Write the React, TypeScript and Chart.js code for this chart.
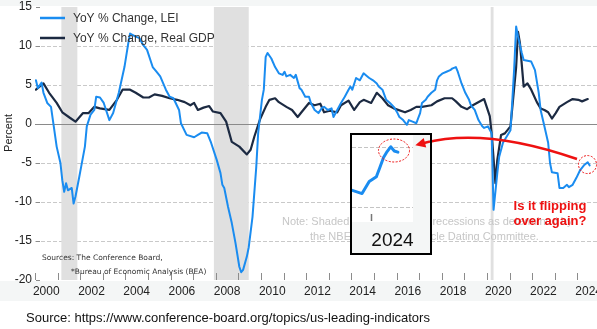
import React, { useEffect, useRef } from 'react';
import { Chart, registerables } from 'chart.js';

Chart.register(...registerables);

// ---------- data ----------
const seriesNames = ['YoY % Change, LEI', 'YoY % Change, Real GDP'];

const leiMonths = [
  '2000-01','2000-02','2000-04','2000-05','2000-07','2000-09','2000-10','2000-12',
  '2001-02','2001-03','2001-04','2001-05','2001-06','2001-08','2001-09','2001-10','2001-12',
  '2002-01','2002-03','2002-04','2002-06','2002-08','2002-09','2002-11',
  '2003-01','2003-04','2003-06','2003-09','2003-12',
  '2004-02','2004-03','2004-06','2004-08','2004-10','2004-12',
  '2005-03','2005-05','2005-07','2005-10','2005-12',
  '2006-02','2006-05','2006-06','2006-09',
  '2007-01','2007-03','2007-05','2007-08','2007-10',
  '2008-01','2008-03','2008-04','2008-05','2008-07','2008-09','2008-11',
  '2009-01','2009-02','2009-03','2009-05','2009-06','2009-08','2009-10','2009-11',
  '2010-01','2010-02','2010-03','2010-04','2010-06','2010-08','2010-10','2010-12',
  '2011-01','2011-02','2011-04','2011-06','2011-07','2011-09','2011-10','2011-12',
  '2012-02','2012-03','2012-05','2012-07','2012-09','2012-10','2012-12',
  '2013-02','2013-03','2013-05','2013-07','2013-09','2013-11','2013-12',
  '2014-01','2014-03','2014-05','2014-07','2014-09','2014-10','2014-12',
  '2015-02','2015-03','2015-05','2015-07','2015-09','2015-11',
  '2016-01','2016-02','2016-04','2016-06','2016-07','2016-09','2016-11',
  '2017-01','2017-02','2017-04','2017-05','2017-07','2017-09','2017-10','2017-11',
  '2018-01','2018-03','2018-05','2018-06','2018-08','2018-09','2018-11',
  '2019-01','2019-03','2019-04','2019-06','2019-08','2019-10','2019-11',
  '2020-01','2020-03','2020-04','2020-06','2020-07','2020-09','2020-11',
  '2021-01','2021-02','2021-03','2021-04','2021-05','2021-07','2021-08','2021-10','2021-12',
  '2022-02','2022-04','2022-05','2022-07','2022-09','2022-10','2022-11',
  '2023-02','2023-03','2023-05','2023-07','2023-08','2023-10','2023-12',
  '2024-02','2024-04','2024-06','2024-07',
];
const leiValues = [
  5.6, 4.6, 5.3, 4.0, 2.7, 2.2, 0.5, -2.9,
  -5.0, -7.2, -8.7, -7.6, -8.5, -8.2, -10.2, -9.3, -6.8,
  -5.5, -2.9, -0.3, 1.2, 1.8, 3.5, 3.4,
  2.7, 0.5, 1.4, 4.0, 7.3,
  10.3, 11.6, 11.2, 11.0, 10.1, 9.5,
  7.3, 6.7, 6.1, 4.4, 3.5,
  3.3, 1.8, 0.1, -1.4,
  -1.7, -1.4, -1.1, -1.2, -2.4,
  -4.6, -6.3, -7.8, -8.2, -10.6, -12.7, -15.3,
  -18.3, -19.0, -18.7, -17.0, -15.8, -11.9, -5.5, -1.2,
  3.1, 4.4, 8.6, 9.1, 8.4, 7.3, 6.5, 6.3,
  6.7, 6.1, 6.3, 5.9, 6.3, 4.6, 4.4, 3.5,
  3.5, 2.7, 1.8, 1.4, 2.1, 2.2, 1.8,
  2.0, 0.9, 1.8, 2.7, 3.5, 4.4, 4.8,
  4.4, 5.9, 5.6, 6.5, 6.1, 5.9, 5.6,
  5.2, 4.8, 4.4, 3.1, 2.7, 2.2,
  1.4, 0.9, 0.5, -0.1, 0.5, 0.3, 0.1,
  1.4, 2.7, 3.1, 3.5, 4.0, 4.4, 5.6, 6.1,
  6.5, 6.7, 6.9, 7.1, 7.3, 6.7, 5.2,
  4.0, 3.1, 2.4, 1.8, 0.5, -0.3, -0.5,
  -0.3, -1.2, -11.0, -6.3, -4.2, -2.4, -1.6,
  -0.8, 3.1, 7.3, 12.5, 11.2, 9.1, 8.2, 8.1, 8.0,
  6.9, 4.0, 1.8, -0.3, -2.4, -5.0, -6.2,
  -6.3, -8.2, -8.2, -7.8, -8.1, -7.8, -6.9,
  -5.9, -5.3, -4.9, -5.3,
];

const gdpMonths = [
  '2000-01','2000-05','2000-08','2000-12','2001-03','2001-07','2001-10',
  '2002-02','2002-05','2002-08','2002-11','2003-04','2003-08','2003-11',
  '2004-03','2004-06','2004-10','2005-01','2005-04','2005-08','2005-12',
  '2006-04','2006-08','2006-11','2007-01','2007-03','2007-06','2007-09','2007-11',
  '2008-03','2008-06','2008-09','2009-01','2009-05','2009-07','2009-09','2009-12',
  '2010-03','2010-05','2010-08','2010-10','2011-02','2011-05','2011-08','2011-10',
  '2012-02','2012-05','2012-08','2012-10','2013-01','2013-05','2013-07','2013-11',
  '2014-02','2014-05','2014-07','2014-11','2015-02','2015-05','2015-08','2015-11',
  '2016-05','2016-08','2016-11','2017-02','2017-07','2017-10',
  '2018-02','2018-06','2018-08','2018-11','2019-02','2019-05','2019-11',
  '2020-02','2020-03','2020-05','2020-06','2020-08','2020-10',
  '2021-01','2021-02','2021-04','2021-05','2021-06','2021-08','2021-10','2021-12',
  '2022-03','2022-05','2022-07','2022-09','2022-11',
  '2023-01','2023-03','2023-07','2023-10','2024-01','2024-03','2024-06',
];
const gdpValues = [
  4.4, 5.2, 4.0, 2.7, 1.5, 0.8, 0.3,
  1.4, 1.4, 2.2, 2.0, 1.8, 3.1, 4.4,
  4.4, 4.0, 3.4, 3.4, 3.8, 3.6, 3.3,
  3.1, 2.8, 2.4, 2.7, 1.8, 2.1, 2.3, 1.6,
  1.4, 0.3, -2.3, -2.9, -3.9, -3.3, -1.6, 0.6,
  2.2, 3.1, 3.3, 2.8, 2.2, 1.8, 0.9, 1.5,
  2.7, 2.4, 2.6, 1.5, 1.7, 1.5, 2.4, 3.0,
  1.8, 2.8, 3.1, 2.7, 4.0, 3.3, 2.4, 2.0,
  1.5, 1.8, 2.2, 2.2, 2.4, 2.9,
  3.3, 3.3, 2.9, 2.2, 1.9, 2.4, 3.2,
  1.0, -1.2, -7.6, -4.6, -1.4, -1.2,
  -0.3, 2.2, 7.3, 11.8, 10.4, 4.8, 5.2, 4.4,
  2.8, 2.0, 1.8, 1.5, 0.7,
  1.4, 2.2, 2.8, 3.2, 3.1, 2.9, 3.2,
];

// recessions (NBER), first and last month of shading
const recessionStarts = ['2001-03', '2007-12', '2020-03'];
const recessionEnds = ['2001-11', '2009-06', '2020-04'];

const yTickValues = [15, 10, 5, 0, -5, -10, -15, -20];
const xLabelYears = [2000, 2002, 2004, 2006, 2008, 2010, 2012, 2014, 2016, 2018, 2020, 2022, 2024];

// zoomed inset of the latest LEI readings
const insetMonths = ['2023-07', '2023-10', '2023-12', '2024-02', '2024-03', '2024-04', '2024-05', '2024-06', '2024-07', '2024-08'];
const insetValues = [-8.5, -8.8, -7.8, -7.4, -6.6, -5.8, -5.3, -4.9, -5.25, -5.35];
const insetLabelYear = 2024;

// annotation anchor (latest LEI reading)
const flagPoint = { month: 2024.45, value: -5.2 };

// ---------- styles ----------
const LEI_COLOR = '#1a8cf0';
const GDP_COLOR = '#1c2a42';
const RED = '#ee1111';
const NARROW = "'Liberation Sans Narrow', 'Arial Narrow', 'Liberation Sans', Arial, sans-serif";
const SANS = "'Liberation Sans', Arial, sans-serif";
const STRIP = '#f4f6f6';

function monthToYear(m: string): number {
  const [y, mo] = m.split('-').map(Number);
  return y + (mo - 0.5) / 12;
}

// arrow geometry in page pixels
const ARROW = { p0: [577, 159], p1: [485, 127], p2: [424, 143] };

function drawArrow(ctx: CanvasRenderingContext2D, ox: number, oy: number) {
  const [x0, y0] = ARROW.p0, [x1, y1] = ARROW.p1, [x2, y2] = ARROW.p2;
  ctx.save();
  ctx.translate(-ox, -oy);
  ctx.strokeStyle = RED;
  ctx.fillStyle = RED;
  ctx.lineWidth = 2.5;
  ctx.beginPath();
  ctx.moveTo(x0, y0);
  ctx.quadraticCurveTo(x1, y1, x2, y2);
  ctx.stroke();
  const dx = x2 - x1, dy = y2 - y1;
  const len = Math.hypot(dx, dy);
  const ux = dx / len, uy = dy / len;
  const tipX = x2 + ux * 9, tipY = y2 + uy * 9;
  const bx = x2 - ux * 1, by = y2 - uy * 1;
  ctx.beginPath();
  ctx.moveTo(tipX, tipY);
  ctx.lineTo(bx - uy * 5, by + ux * 5);
  ctx.lineTo(bx + uy * 5, by - ux * 5);
  ctx.closePath();
  ctx.fill();
  ctx.restore();
}

const mainPlugin = {
  id: 'mainDecor',
  beforeDraw(chart: any) {
    const { ctx, width } = chart;
    ctx.save();
    ctx.fillStyle = '#ffffff';
    ctx.fillRect(0, 0, width, chart.height);
    ctx.fillStyle = STRIP;
    ctx.fillRect(0, 0, width, 6);
    ctx.fillRect(0, 281, width, 20);
    ctx.restore();
  },
  beforeDatasetsDraw(chart: any) {
    const { ctx, chartArea } = chart;
    const xs = chart.scales.x, ys = chart.scales.y;
    ctx.save();
    // recession shading
    ctx.fillStyle = '#e0e0e0';
    recessionStarts.forEach((s, i) => {
      const a = xs.getPixelForValue(monthToYear(s) - 1 / 24);
      const b = xs.getPixelForValue(monthToYear(recessionEnds[i]));
      ctx.fillRect(a, chartArea.top, b - a, chartArea.bottom - chartArea.top);
    });
    // zero line
    const y0 = Math.round(ys.getPixelForValue(0)) + 0.5;
    ctx.strokeStyle = '#8a8a8a';
    ctx.lineWidth = 1;
    ctx.beginPath();
    ctx.moveTo(chartArea.left, y0);
    ctx.lineTo(chartArea.right, y0);
    ctx.stroke();
    // inward tick marks
    ctx.strokeStyle = '#8c8c8c';
    for (let yr = 2000; yr <= 2024; yr++) {
      const x = Math.round(xs.getPixelForValue(yr)) + 0.5;
      ctx.beginPath();
      ctx.moveTo(x, chartArea.bottom - 7);
      ctx.lineTo(x, chartArea.bottom);
      ctx.stroke();
    }
    yTickValues.forEach((v) => {
      const y = Math.round(ys.getPixelForValue(v)) + 0.5;
      ctx.beginPath();
      ctx.moveTo(chartArea.left + 1, y);
      ctx.lineTo(chartArea.left + 5, y);
      ctx.stroke();
    });
    ctx.restore();
  },
  afterDraw(chart: any) {
    const { ctx } = chart;
    const xs = chart.scales.x, ys = chart.scales.y;
    ctx.save();
    // legend
    const colors = [LEI_COLOR, GDP_COLOR];
    seriesNames.forEach((name, i) => {
      const y = 18 + i * 20;
      ctx.strokeStyle = colors[i];
      ctx.lineWidth = 2.5;
      ctx.beginPath();
      ctx.moveTo(40, y);
      ctx.lineTo(65, y);
      ctx.stroke();
      ctx.fillStyle = '#333333';
      ctx.font = `12px ${NARROW}`;
      ctx.textBaseline = 'middle';
      ctx.textAlign = 'left';
      ctx.fillText(name, 73, y + 1);
    });
    // y title
    ctx.save();
    ctx.translate(9, 133);
    ctx.rotate(-Math.PI / 2);
    ctx.font = `11px ${SANS}`;
    ctx.fillStyle = '#222';
    ctx.textAlign = 'center';
    ctx.textBaseline = 'middle';
    ctx.fillText('Percent', 0, 0);
    ctx.restore();
    // sources
    ctx.font = `7.5px 'DejaVu Sans', sans-serif`;
    ctx.fillStyle = '#333';
    ctx.textAlign = 'left';
    ctx.textBaseline = 'middle';
    ctx.fillText('Sources: The Conference Board,', 42, 258);
    ctx.fillText('*Bureau of Economic Analysis (BEA)', 71, 272);
    // note
    ctx.font = `11px ${SANS}`;
    ctx.fillStyle = '#c6c6c6';
    ctx.fillText('Note: Shaded areas represent recessions as determined by', 282, 222);
    ctx.fillText("the NBER's Business Cycle Dating Committee.", 310, 237);
    // red question
    ctx.font = `bold 13px ${SANS}`;
    ctx.fillStyle = RED;
    ctx.textAlign = 'center';
    ctx.fillText('Is it flipping', 550, 206);
    ctx.fillText('over again?', 550, 221);
    // circle at latest reading
    const cx = xs.getPixelForValue(flagPoint.month);
    const cy = ys.getPixelForValue(flagPoint.value);
    ctx.strokeStyle = RED;
    ctx.lineWidth = 1;
    ctx.setLineDash([2, 1.5]);
    ctx.beginPath();
    ctx.arc(cx, cy, 9, 0, Math.PI * 2);
    ctx.stroke();
    ctx.setLineDash([]);
    // source footer
    ctx.font = `13px ${SANS}`;
    ctx.fillStyle = '#111';
    ctx.textAlign = 'left';
    ctx.fillText('Source: https://www.conference-board.org/topics/us-leading-indicators', 26, 318);
    ctx.restore();
    drawArrow(ctx, 0, 0);
  },
};

const INSET_LEFT = 352, INSET_TOP = 135;

const insetPlugin = {
  id: 'insetDecor',
  beforeDraw(chart: any) {
    const { ctx, chartArea } = chart;
    ctx.save();
    ctx.fillStyle = STRIP;
    ctx.fillRect(0, 0, chart.width, chart.height);
    ctx.fillStyle = '#ffffff';
    ctx.fillRect(chartArea.left, chartArea.top, chartArea.right - chartArea.left, chartArea.bottom - chartArea.top);
    ctx.restore();
  },
  beforeDatasetsDraw(chart: any) {
    const { ctx, chartArea } = chart;
    const x = Math.round(chart.scales.x.getPixelForValue(insetLabelYear)) + 0.5;
    ctx.save();
    ctx.strokeStyle = '#777';
    ctx.lineWidth = 1.5;
    ctx.beginPath();
    ctx.moveTo(x, chartArea.bottom - 8);
    ctx.lineTo(x, chartArea.bottom - 1);
    ctx.stroke();
    ctx.restore();
  },
  afterDraw(chart: any) {
    const { ctx } = chart;
    ctx.save();
    ctx.strokeStyle = RED;
    ctx.lineWidth = 1;
    ctx.setLineDash([2, 1.5]);
    ctx.beginPath();
    ctx.ellipse(394 - INSET_LEFT, 150.5 - INSET_TOP, 15.5, 11.5, 0, 0, Math.PI * 2);
    ctx.stroke();
    ctx.restore();
    drawArrow(ctx, INSET_LEFT, INSET_TOP);
  },
};

function noEdgePadding(s: any, h: number) {
  s.height = h;
  s.paddingLeft = 0;
  s.paddingRight = 0;
}

export default function App() {
  const mainRef = useRef<HTMLCanvasElement>(null);
  const insetRef = useRef<HTMLCanvasElement>(null);

  useEffect(() => {
    const main = new Chart(mainRef.current as HTMLCanvasElement, {
      type: 'line',
      data: {
        datasets: [
          {
            label: seriesNames[0],
            data: leiMonths.map((m, i) => ({ x: monthToYear(m), y: leiValues[i] })),
            borderColor: LEI_COLOR,
            borderWidth: 2,
          },
          {
            label: seriesNames[1],
            data: gdpMonths.map((m, i) => ({ x: monthToYear(m), y: gdpValues[i] })),
            borderColor: GDP_COLOR,
            borderWidth: 2.2,
          },
        ],
      },
      options: {
        animation: false,
        responsive: false,
        maintainAspectRatio: false,
        layout: { padding: { top: 7, bottom: 29, left: 0, right: 0 } },
        elements: { point: { radius: 0 }, line: { tension: 0, borderJoinStyle: 'round', borderCapStyle: 'round' } },
        plugins: { legend: { display: false }, tooltip: { enabled: false } },
        scales: {
          x: {
            type: 'linear',
            min: 2000,
            max: 2024.87,
            afterBuildTicks: (s: any) => { s.ticks = xLabelYears.map((y) => ({ value: y + 0.5 })); },
            afterFit: (s: any) => noEdgePadding(s, 20),
            grid: { display: false, drawTicks: false },
            border: { display: false },
            ticks: {
              autoSkip: false,
              maxRotation: 0,
              padding: 4,
              color: '#222',
              font: { family: NARROW, size: 12 },
              callback: (v: any) => String(Math.floor(Number(v))),
            },
          },
          y: {
            min: -20,
            max: 15,
            afterBuildTicks: (s: any) => { s.ticks = yTickValues.map((v) => ({ value: v })); },
            afterFit: (s: any) => { s.width = 35; s.paddingTop = 0; s.paddingBottom = 0; },
            grid: {
              drawTicks: false,
              color: (c: any) => {
                const v = c.tick ? c.tick.value : null;
                return v === 0 || v === 15 || v === -20 ? 'rgba(0,0,0,0)' : '#c9c9c9';
              },
              lineWidth: 1,
            },
            border: { display: false, dash: [4, 2] },
            ticks: { padding: 3, color: '#222', font: { family: NARROW, size: 12 } },
          },
        },
      },
      plugins: [mainPlugin],
    } as any);

    const inset = new Chart(insetRef.current as HTMLCanvasElement, {
      type: 'line',
      data: {
        datasets: [
          {
            data: insetMonths.map((m, i) => ({ x: monthToYear(m), y: insetValues[i] })),
            borderColor: LEI_COLOR,
            borderWidth: 3,
          },
        ],
      },
      options: {
        animation: false,
        responsive: false,
        maintainAspectRatio: false,
        layout: { padding: { top: 0, bottom: 0, left: 0, right: 17 } },
        elements: { point: { radius: 0 }, line: { tension: 0, borderJoinStyle: 'round', borderCapStyle: 'round' } },
        plugins: { legend: { display: false }, tooltip: { enabled: false } },
        scales: {
          x: {
            type: 'linear',
            min: 2023.558,
            max: 2024.977,
            afterBuildTicks: (s: any) => { s.ticks = [{ value: insetLabelYear + 0.5 }]; },
            afterFit: (s: any) => noEdgePadding(s, 31),
            grid: { display: false, drawTicks: false },
            border: { display: false },
            ticks: {
              autoSkip: false,
              maxRotation: 0,
              padding: 7,
              color: '#111',
              font: { family: SANS, size: 19 },
              callback: (v: any) => String(Math.floor(Number(v))),
            },
          },
          y: {
            min: -11.167,
            max: -3.917,
            afterBuildTicks: (s: any) => { s.ticks = [{ value: -5 }, { value: -10 }]; },
            afterFit: (s: any) => { s.width = 0; s.paddingTop = 0; s.paddingBottom = 0; },
            ticks: { display: false },
            grid: { drawTicks: false, color: '#c4c4c4', lineWidth: 1 },
            border: { display: false, dash: [4, 2] },
          },
        },
      },
      plugins: [insetPlugin],
    } as any);

    return () => {
      main.destroy();
      inset.destroy();
    };
  }, []);

  return (
    <div style={{ position: 'fixed', left: 0, top: 0, width: 597, height: 329, background: '#fff' }}>
      <canvas ref={mainRef} width={597} height={329} style={{ position: 'absolute', left: 0, top: 0, width: 597, height: 329 }} />
      <div
        style={{
          position: 'absolute',
          left: 350,
          top: 133,
          width: 82,
          height: 122,
          border: '2px solid #000',
          boxSizing: 'border-box',
          background: STRIP,
        }}
      >
        <canvas ref={insetRef} width={78} height={118} style={{ display: 'block', width: 78, height: 118 }} />
      </div>
    </div>
  );
}
